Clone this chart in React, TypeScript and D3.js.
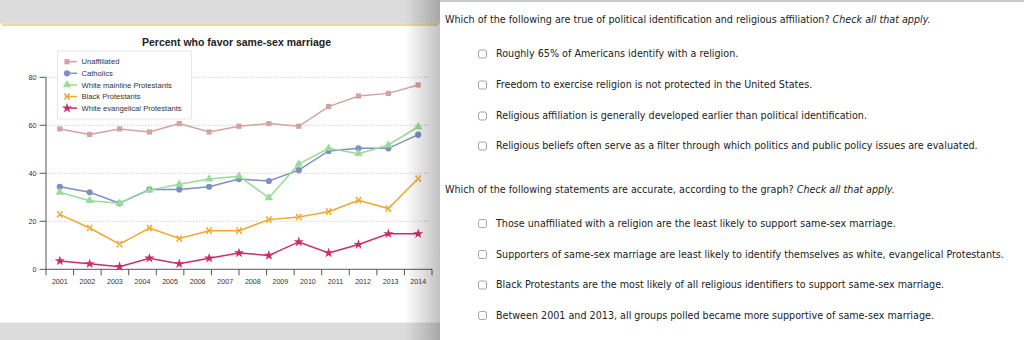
import React from "react";
import * as d3 from "d3";

const years = ["2001", "2002", "2003", "2004", "2005", "2006", "2007", "2008", "2009", "2010", "2011", "2012", "2013", "2014"];
const yTicks = [0, 20, 40, 60, 80];
const seriesNames = ["Unaffiliated", "Catholics", "White mainline Protestants", "Black Protestants", "White evangelical Protestants"];
const seriesColors = ["#d3a3a3", "#7f8fc4", "#97dc97", "#f0a92e", "#cc2d68"];
const seriesMarkers = ["square", "circle", "triangle", "x", "star"];
const unaffiliated = [58.5, 56.2, 58.5, 57.2, 60.7, 57.2, 59.6, 60.7, 59.6, 67.8, 72.2, 73.3, 76.8];
const catholics = [34.4, 32.1, 27.5, 33.3, 33.3, 34.4, 37.6, 36.8, 41.3, 49.3, 50.4, 50.4, 56.1];
const mainline = [32.1, 28.6, 27.5, 33.0, 35.4, 37.6, 38.8, 29.8, 43.8, 50.4, 48.2, 51.8, 59.4];
const blackProt = [22.9, 17.2, 10.5, 17.2, 12.8, 16.1, 16.1, 20.7, 21.8, 24.0, 28.8, 25.3, 37.8];
const evangelical = [3.5, 2.3, 1.1, 4.6, 2.3, 4.6, 6.8, 5.8, 11.4, 6.8, 10.3, 14.8, 14.8];
const seriesValues = [unaffiliated, catholics, mainline, blackProt, evangelical];

const chartTitle = "Percent who favor same-sex marriage";
const question1 = "Which of the following are true of political identification and religious affiliation? ";
const question2 = "Which of the following statements are accurate, according to the graph? ";
const checkAll = "Check all that apply.";
const options1 = [
  "Roughly 65% of Americans identify with a religion.",
  "Freedom to exercise religion is not protected in the United States.",
  "Religious affiliation is generally developed earlier than political identification.",
  "Religious beliefs often serve as a filter through which politics and public policy issues are evaluated.",
];
const options2 = [
  "Those unaffiliated with a religion are the least likely to support same-sex marriage.",
  "Supporters of same-sex marriage are least likely to identify themselves as white, evangelical Protestants.",
  "Black Protestants are the most likely of all religious identifiers to support same-sex marriage.",
  "Between 2001 and 2013, all groups polled became more supportive of same-sex marriage.",
];

const chartFont = "'Liberation Sans', Arial, Helvetica, sans-serif";
const panelFont = "'DejaVu Sans', Verdana, sans-serif";

function Marker({ kind, x, y, color }: { kind: string; x: number; y: number; color: string }) {
  if (kind === "square") return <rect x={x - 2.6} y={y - 2.6} width={5.2} height={5.2} fill={color} />;
  if (kind === "circle") return <circle cx={x} cy={y} r={3.1} fill={color} />;
  if (kind === "triangle")
    return <path transform={`translate(${x},${y})`} d={d3.symbol(d3.symbolTriangle, 30)() || ""} fill={color} />;
  if (kind === "star")
    return <path transform={`translate(${x},${y})`} d={d3.symbol(d3.symbolStar, 32)() || ""} fill={color} />;
  const s = 2.7;
  return (
    <path
      transform={`translate(${x},${y})`}
      d={`M${-s},${-s}L${s},${s}M${-s},${s}L${s},${-s}M${-s},${-s}L${-s + 1.6},${-s}M${s - 1.6},${-s}L${s},${-s}M${-s},${s}L${-s + 1.6},${s}M${s - 1.6},${s}L${s},${s}`}
      stroke={color}
      strokeWidth={1.3}
      fill="none"
    />
  );
}

export default function App() {
  const W = 1024;
  const H = 340;
  const left = 46;
  const right = 432;
  const x = d3.scaleBand<string>().domain(years).range([left, right]).paddingInner(0).paddingOuter(0);
  const bw = x.bandwidth();
  const xp = d3
    .scalePoint<number>()
    .domain(d3.range(unaffiliated.length))
    .range([(x(years[0]) as number) + bw / 2, (x(years[years.length - 1]) as number) + bw / 2]);
  const y = d3.scaleLinear().domain([0, 80]).range([269.3, 77.3]);
  const line = d3
    .line<number>()
    .x((_, i) => xp(i) as number)
    .y((d) => y(d));

  const legendX = 57.5;
  const legendY = 51;
  const optY1 = [54, 85, 116, 146];
  const optY2 = [223.5, 254.5, 285, 315.5];

  return (
    <svg width={W} height={H} style={{ position: "absolute", left: 0, top: 0, display: "block" }}>
      <defs>
        <linearGradient id="shade" x1="0" x2="1" y1="0" y2="0">
          <stop offset="0" stopColor="#000" stopOpacity="0" />
          <stop offset="1" stopColor="#000" stopOpacity="0.24" />
        </linearGradient>
      </defs>
      {/* left page background */}
      <rect x={0} y={0} width={440} height={23.5} fill="#dcdcdc" />
      <rect x={2} y={23.5} width={436} height={2.5} fill="#ead9a2" />
      <rect x={0} y={26} width={440} height={296.5} fill="#ffffff" />
      <rect x={0} y={322.5} width={440} height={17.5} fill="#dcdcdc" />

      {/* chart */}
      <g fontFamily={chartFont}>
        <text x={236.5} y={45.5} textAnchor="middle" fontWeight="bold" fontSize={10.5} fill="#222">
          {chartTitle}
        </text>
        {yTicks.filter((t) => t > 0).map((t) => (
          <line key={"g" + t} x1={left} x2={right - 2} y1={y(t)} y2={y(t)} stroke="#c8c8c8" strokeWidth={0.8} strokeDasharray="1.5,1.5" />
        ))}
        <line x1={left} x2={left} y1={y(80)} y2={y(0) + 6} stroke="#555" strokeWidth={1} />
        {yTicks.map((t) => (
          <g key={"yt" + t}>
            <line x1={39.5} x2={left} y1={y(t)} y2={y(t)} stroke="#555" strokeWidth={1} />
            <text x={36.5} y={y(t) + 2.5} textAnchor="end" fontSize={7.3} fill="#333">
              {t}
            </text>
          </g>
        ))}
        <line x1={left} x2={right} y1={y(0)} y2={y(0)} stroke="#555" strokeWidth={1} />
        {years.map((yr) => (
          <line key={"xt" + yr} x1={(x(yr) as number) + bw} x2={(x(yr) as number) + bw} y1={y(0)} y2={y(0) + 6} stroke="#555" strokeWidth={1} />
        ))}
        {years.map((yr) => (
          <text key={"xl" + yr} x={(x(yr) as number) + bw / 2} y={283.5} textAnchor="middle" fontSize={7.1} fill="#333">
            {yr}
          </text>
        ))}

        {seriesValues.map((vals, si) => (
          <g key={"s" + si}>
            <path d={line(vals) || ""} fill="none" stroke={seriesColors[si]} strokeWidth={1.5} />
            {vals.map((v, i) => (
              <Marker key={i} kind={seriesMarkers[si]} x={xp(i) as number} y={y(v)} color={seriesColors[si]} />
            ))}
          </g>
        ))}

        {/* legend */}
        <rect x={legendX} y={legendY} width={134} height={68} fill="#ffffff" stroke="#e6e6e6" strokeWidth={1} />
        {seriesNames.map((name, i) => {
          const ly = 61.7 + i * 11.6;
          return (
            <g key={"l" + i}>
              <line x1={65} x2={77} y1={ly} y2={ly} stroke={seriesColors[i]} strokeWidth={1.5} />
              <Marker kind={seriesMarkers[i]} x={67} y={ly} color={seriesColors[i]} />
              <text x={81.5} y={ly + 2.6} fontSize={7.6} fill="#333">
                {name}
              </text>
            </g>
          );
        })}
      </g>

      {/* shadow at the right edge of the left page */}
      <rect x={405} y={0} width={35} height={340} fill="url(#shade)" />

      {/* right panel */}
      <rect x={440} y={0} width={584} height={340} fill="#ffffff" />
      <rect x={440} y={0} width={584} height={2} fill="#c9c9c9" />
      <g fontFamily={panelFont} fontSize={9.6} fill="#222">
        <text x={445} y={23.3}>
          {question1}
          <tspan fontStyle="italic">{checkAll}</tspan>
        </text>
        {options1.map((o, i) => (
          <g key={"o1" + i}>
            <rect x={478.5} y={optY1[i] - 4} width={8} height={8} rx={2} fill="#fff" stroke="#9a9a9a" strokeWidth={0.9} />
            <text x={496} y={optY1[i] + 3.3}>
              {o}
            </text>
          </g>
        ))}
        <text x={445} y={192.8}>
          {question2}
          <tspan fontStyle="italic">{checkAll}</tspan>
        </text>
        {options2.map((o, i) => (
          <g key={"o2" + i}>
            <rect x={478.5} y={optY2[i] - 4} width={8} height={8} rx={2} fill="#fff" stroke="#9a9a9a" strokeWidth={0.9} />
            <text x={496} y={optY2[i] + 3.3}>
              {o}
            </text>
          </g>
        ))}
      </g>
    </svg>
  );
}
